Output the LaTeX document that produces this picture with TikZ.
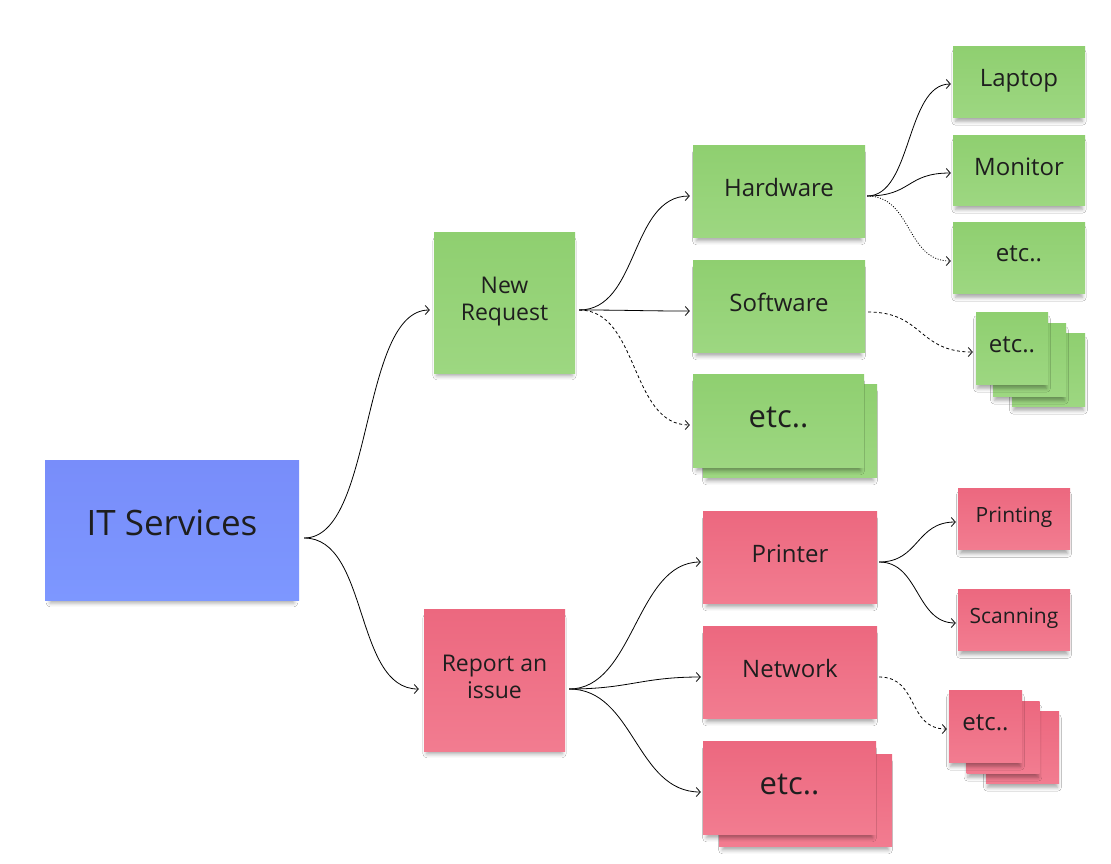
\documentclass[tikz,border=0pt]{standalone}
\usepackage{fontspec}
\setmainfont{Open Sans}
\usetikzlibrary{arrows.meta,shadows.blur,calc}
\definecolor{gtop}{RGB}{143,207,112}
\definecolor{gbot}{RGB}{157,215,129}
\definecolor{rtop}{RGB}{236,104,127}
\definecolor{rbot}{RGB}{242,124,144}
\definecolor{btop}{RGB}{120,141,250}
\definecolor{bbot}{RGB}{125,151,255}
\definecolor{ink}{RGB}{30,30,30}
\tikzset{
  card/.style={inner sep=0pt, text=ink, align=center, shading=axis, text depth=7pt,
    blur shadow={shadow xshift=0pt, shadow yshift=-6pt, shadow scale=0.96,
      shadow blur radius=4pt, shadow opacity=35}},
  gcard/.style={card, top color=gtop, bottom color=gbot},
  rcard/.style={card, top color=rtop, bottom color=rbot},
  bcard/.style={card, top color=btop, bottom color=bbot},
  conn/.style={draw=black, line width=0.8pt, -{Straight Barb[length=4pt,width=9pt]}},
  dashconn/.style={conn, dash pattern=on 3pt off 2.5pt},
  dotconn/.style={conn, dash pattern=on 1pt off 1.6pt},
  fa/.style={font=\fontsize{35}{40}\selectfont, text depth=14pt},
  fb/.style={font=\fontsize{23}{27}\selectfont},
  fc/.style={font=\fontsize{24}{28}\selectfont},
  fd/.style={font=\fontsize{31}{36}\selectfont},
  fe/.style={font=\fontsize{21}{25}\selectfont},
}
\begin{document}
\begin{tikzpicture}[x=1pt,y=-1pt]
\useasboundingbox[fill=white] (0,0) rectangle (1111,863);

% level 0 / 1
\node[bcard, fa, minimum width=254pt, minimum height=140pt] (it) at (172,530) {IT Services};
\node[gcard, fb, minimum width=141pt, minimum height=141pt] (nr) at (504.5,302.5) {New\\Request};
\node[rcard, fb, minimum width=141pt, minimum height=142pt] (ri) at (494.5,680) {Report an\\issue};

% level 2 green
\node[gcard, fc, minimum width=172pt, minimum height=92pt] (hw) at (779,191) {Hardware};
\node[gcard, fc, minimum width=172pt, minimum height=92pt] (sw) at (779,306) {Software};
\node[gcard, minimum width=174pt, minimum height=93pt] (etcgb) at (790,430.5) {};
\node[gcard, fd, minimum width=171pt, minimum height=93pt] (etcg) at (778.5,420.5) {etc..};

% level 3 green
\node[gcard, fc, minimum width=132pt, minimum height=71pt] (lap) at (1019,81.5) {Laptop};
\node[gcard, fc, minimum width=132pt, minimum height=70pt] (mon) at (1019,170) {Monitor};
\node[gcard, fc, minimum width=132pt, minimum height=71pt] (etch) at (1019,257.5) {etc..};
\node[gcard, minimum width=73pt, minimum height=73pt] (gs3) at (1048.5,369.5) {};
\node[gcard, minimum width=73pt, minimum height=73pt] (gs2) at (1029.5,359.5) {};
\node[gcard, fc, minimum width=72pt, minimum height=72pt] (gs1) at (1012,348) {etc..};

% level 2 red
\node[rcard, fc, minimum width=174pt, minimum height=92pt] (pr) at (790,557) {Printer};
\node[rcard, fc, minimum width=174pt, minimum height=92pt] (nw) at (790,672) {Network};
\node[rcard, minimum width=173pt, minimum height=92pt] (etcrb) at (805.5,800) {};
\node[rcard, fd, minimum width=173pt, minimum height=93pt] (etcr) at (789.5,787.5) {etc..};

% level 3 red
\node[rcard, fe, minimum width=112pt, minimum height=61pt] (pri) at (1014,518.5) {Printing};
\node[rcard, fe, minimum width=112pt, minimum height=61pt] (sca) at (1014,619.5) {Scanning};
\node[rcard, minimum width=73pt, minimum height=72pt] (rs3) at (1022.5,747) {};
\node[rcard, minimum width=73pt, minimum height=72pt] (rs2) at (1003,737) {};
\node[rcard, fc, minimum width=73pt, minimum height=72pt] (rs1) at (985.5,726) {etc..};

% connector end points
\coordinate (itO) at ($(it.east)+(5,8)$);
\coordinate (nrI) at ($(nr.west)+(-4,7.5)$);
\coordinate (riI) at ($(ri.west)+(-5,9)$);
\coordinate (nrO) at ($(nr.east)+(4,7.5)$);
\coordinate (riO) at ($(ri.east)+(4,9)$);
\coordinate (hwI) at ($(hw.west)+(-3,5)$);
\coordinate (swI) at ($(sw.west)+(-3,5)$);
\coordinate (etcgI) at ($(etcg.west)+(-3,4.5)$);
\coordinate (hwO) at ($(hw.east)+(2,5)$);
\coordinate (swO) at ($(sw.east)+(3,6)$);
\coordinate (lapI) at ($(lap.west)+(-2,2.5)$);
\coordinate (monI) at ($(mon.west)+(-2,3)$);
\coordinate (etchI) at ($(etch.west)+(-2,3.5)$);
\coordinate (gs1I) at ($(gs1.west)+(-3,4)$);
\coordinate (prI) at ($(pr.west)+(-2,5)$);
\coordinate (nwI) at ($(nw.west)+(-2,5)$);
\coordinate (etcrI) at ($(etcr.west)+(-2,4.5)$);
\coordinate (prO) at ($(pr.east)+(2,5)$);
\coordinate (nwO) at ($(nw.east)+(2,5)$);
\coordinate (priI) at ($(pri.west)+(-2,3.5)$);
\coordinate (scaI) at ($(sca.west)+(-2,3.5)$);
\coordinate (rs1I) at ($(rs1.west)+(-2,3)$);

% connectors
\draw[conn] (itO) .. controls +(70,0) and +(-70,0) .. (nrI);
\draw[conn] (itO) .. controls +(65,0) and +(-65,0) .. (riI);
\draw[conn] (nrO) .. controls +(60,0) and +(-60,0) .. (hwI);
\draw[conn] (nrO) .. controls +(50,0) and +(-50,0) .. (swI);
\draw[dashconn] (nrO) .. controls +(60,0) and +(-60,0) .. (etcgI);
\draw[conn] (hwO) .. controls +(45,0) and +(-45,0) .. (lapI);
\draw[conn] (hwO) .. controls +(45,0) and +(-45,0) .. (monI);
\draw[dotconn] (hwO) .. controls +(45,0) and +(-45,0) .. (etchI);
\draw[dashconn] (swO) .. controls +(55,0) and +(-55,0) .. (gs1I);
\draw[conn] (riO) .. controls +(65,0) and +(-65,0) .. (prI);
\draw[conn] (riO) .. controls +(60,0) and +(-60,0) .. (nwI);
\draw[conn] (riO) .. controls +(65,0) and +(-65,0) .. (etcrI);
\draw[conn] (prO) .. controls +(40,0) and +(-40,0) .. (priI);
\draw[conn] (prO) .. controls +(40,0) and +(-40,0) .. (scaI);
\draw[dashconn] (nwO) .. controls +(40,0) and +(-40,0) .. (rs1I);
\end{tikzpicture}
\end{document}
